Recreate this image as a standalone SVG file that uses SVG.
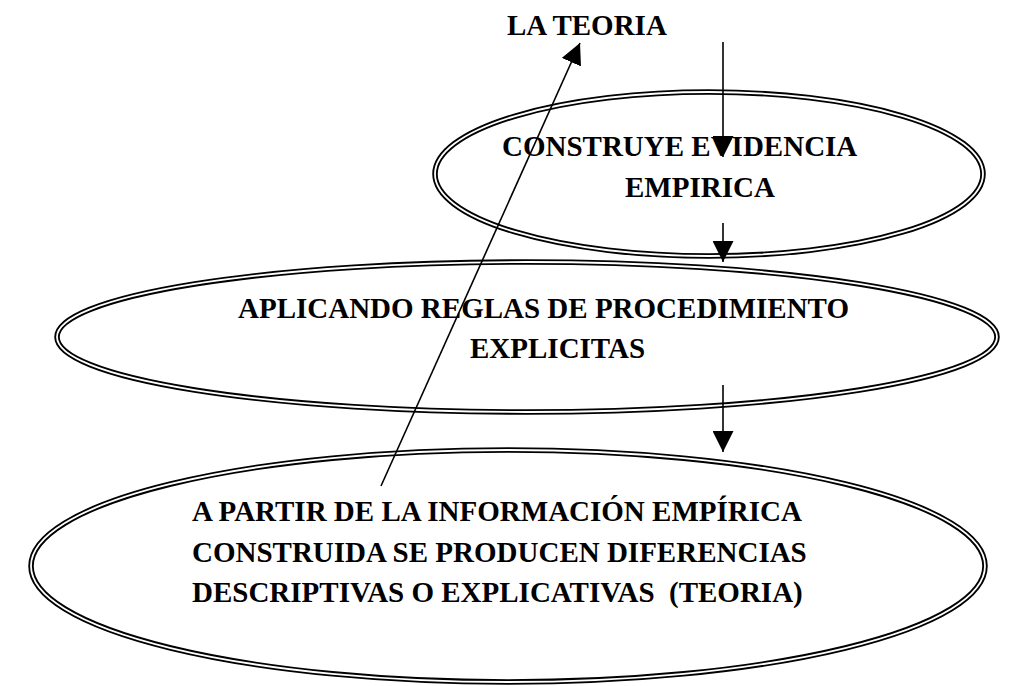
<svg xmlns="http://www.w3.org/2000/svg" width="1014" height="686" viewBox="0 0 1014 686">
<defs>
<style>
.outer{fill:none;stroke:#000;stroke-width:5.5}
.inner{fill:none;stroke:#fff;stroke-width:1.8}
.t{font-family:"Liberation Serif","Times New Roman",serif;font-weight:bold;font-size:29px;fill:#000;white-space:pre}
.c{stroke:#000;stroke-width:1.6;fill:none;marker-end:url(#ah)}
</style>
<marker id="ah" viewBox="0 0 20 20" refX="20" refY="10" markerWidth="21" markerHeight="21" markerUnits="userSpaceOnUse" orient="auto">
<path d="M0,0 L20,10 L0,20 z" fill="#000"/>
</marker>
</defs>
<rect width="1014" height="686" fill="#fff"/>
<g id="teoria">
<text class="t" x="507" y="35">LA TEORIA</text>
</g>
<g id="construye">
<ellipse class="outer" cx="709" cy="174" rx="274" ry="82"/>
<ellipse class="inner" cx="709" cy="174" rx="274" ry="82"/>
<text class="t" x="502" y="156">CONSTRUYE EVIDENCIA</text>
<text class="t" x="625" y="197">EMPIRICA</text>
</g>
<g id="aplicando">
<ellipse class="outer" cx="527" cy="337" rx="470" ry="75"/>
<ellipse class="inner" cx="527" cy="337" rx="470" ry="75"/>
<text class="t" x="238" y="318">APLICANDO REGLAS DE PROCEDIMIENTO</text>
<text class="t" x="470" y="358">EXPLICITAS</text>
</g>
<g id="apartir">
<ellipse class="outer" cx="508" cy="566" rx="477" ry="116"/>
<ellipse class="inner" cx="508" cy="566" rx="477" ry="116"/>
<text class="t" x="192" y="521">A PARTIR DE LA INFORMACIÓN EMPÍRICA</text>
<text class="t" x="192" y="562">CONSTRUIDA SE PRODUCEN DIFERENCIAS</text>
<text class="t" x="192" y="602" xml:space="preserve">DESCRIPTIVAS O EXPLICATIVAS  (TEORIA)</text>
</g>
<g id="connectors">
<line class="c" x1="723" y1="42" x2="723" y2="157"/>
<line class="c" x1="723" y1="223" x2="723" y2="262"/>
<line class="c" x1="723" y1="385" x2="723" y2="452"/>
<line class="c" x1="381" y1="486" x2="580" y2="43"/>
</g>
</svg>
